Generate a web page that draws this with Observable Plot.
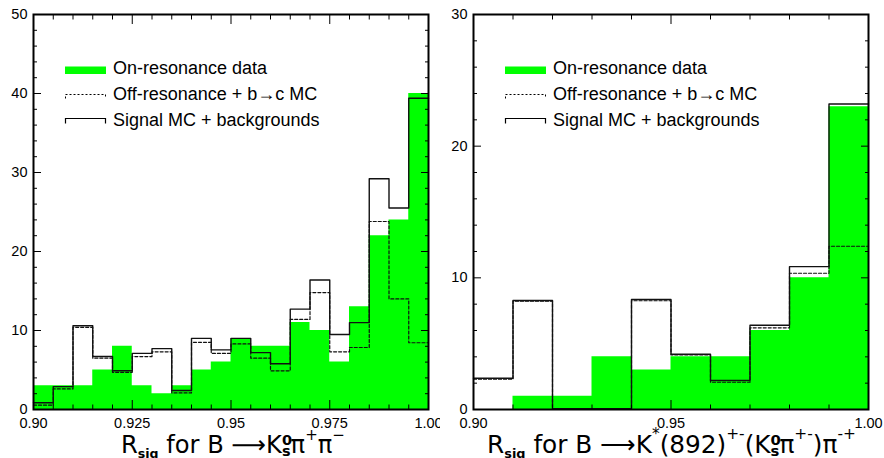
<!DOCTYPE html>
<html><head><meta charset="utf-8">
<script src="https://cdn.jsdelivr.net/npm/d3@7"></script>
<script src="https://cdn.jsdelivr.net/npm/@observablehq/plot@0.6"></script>
<style>
body{margin:0;background:#fff;}
#chart{position:relative;width:884px;height:458px;display:flex;overflow:hidden;}
#chart svg{display:block;}
</style></head><body><div id="chart"></div>
<script>
// ---------- left panel: B -> K0s pi+ pi- ----------
const leftEdges = [0.900,0.905,0.910,0.915,0.920,0.925,0.930,0.935,0.940,0.945,0.950,0.955,0.960,0.965,0.970,0.975,0.980,0.985,0.990,0.995,1.000];
const leftOnRes  = [3,3,3,5,8,3,2,3,5,6,9,8,8,11,10,6,13,22,24,40];
const leftOffRes = [0.55,2.6,10.4,6.5,4.7,6.7,7.3,2.1,8.5,7.1,8.3,6.5,4.9,11.4,14.8,7.3,7.85,23.8,14.0,8.45];
const leftSignal = [0.85,2.9,10.6,6.7,4.9,7.1,7.7,2.4,9.0,7.55,9.0,7.2,5.8,12.7,16.4,9.5,11.0,29.2,25.5,39.4];
const leftXMajor = [0.900,0.925,0.950,0.975,1.000];
const leftXLabels = ["0.90","0.925","0.95","0.975","1.00"];
const leftXMinor = [0.905,0.910,0.915,0.920,0.930,0.935,0.940,0.945,0.955,0.960,0.965,0.970,0.980,0.985,0.990,0.995];
const leftYMajor = [0,10,20,30,40,50];
const leftYLabels = ["0","10","20","30","40","50"];
const leftYMinor = [2,4,6,8,12,14,16,18,22,24,26,28,32,34,36,38,42,44,46,48];
const leftYMax = 50;

// ---------- right panel: B -> K*(892)+- (K0s pi+-) pi-+ ----------
const rightEdges = [0.90,0.91,0.92,0.93,0.94,0.95,0.96,0.97,0.98,0.99,1.00];
const rightOnRes  = [0,1,1,4,3,4,4,6,10,23];
const rightOffRes = [2.3,8.23,0.03,0.03,8.26,4.14,2.07,6.2,10.35,12.4];
const rightSignal = [2.37,8.28,0.06,0.06,8.36,4.2,2.2,6.4,10.85,23.2];
const rightXMajor = [0.90,0.95,1.00];
const rightXLabels = ["0.90","0.95","1.00"];
const rightXMinor = [0.91,0.92,0.93,0.94,0.96,0.97,0.98,0.99];
const rightYMajor = [0,10,20,30];
const rightYLabels = ["0","10","20","30"];
const rightYMinor = [2,4,6,8,12,14,16,18,22,24,26,28];
const rightYMax = 30;

const legendLabels = ["On-resonance data","Off-resonance + b\u2192c MC","Signal MC + backgrounds"];

const leftTitle = [
  {t:"R",k:"n"},{t:"sig",k:"sub"},{t:" for B ",k:"n"},{t:"\u27F6",k:"n"},{t:"K",k:"n"},
  {t:"0",t2:"s",k:"stack"},{t:"\u03C0",k:"n"},{t:"+",k:"sup"},{t:"\u03C0",k:"n"},{t:"\u2212",k:"sup"}
];
const rightTitle = [
  {t:"R",k:"n"},{t:"sig",k:"sub"},{t:" for B ",k:"n"},{t:"\u27F6",k:"n"},{t:"K",k:"n"},{t:"*",k:"sup"},
  {t:"(892)",k:"n"},{t:"+-",k:"sup"},{t:"(K",k:"n"},{t:"0",t2:"s",k:"stack"},{t:"\u03C0",k:"n"},
  {t:"+-",k:"sup"},{t:")",k:"n"},{t:"\u03C0",k:"n"},{t:"-+",k:"sup"}
];

const GREEN = "#00ff00";

function toSteps(edges, values) {
  return edges.map((x, i) => ({x, y: values[Math.min(i, values.length - 1)]}));
}

function addTitle(svg, x0, x1, parts) {
  const text = d3.select(svg).append("text")
    .attr("x", x0).attr("y", 453).attr("text-anchor", "start")
    .attr("font-family", "'DejaVu Sans', sans-serif").attr("fill", "#000");
  function build(fs) {
    text.selectAll("*").remove();
    text.attr("font-size", fs);
    let shift = 0;
    for (const p of parts) {
      if (p.k === "n") {
        text.append("tspan").attr("dy", -shift).text(p.t); shift = 0;
      } else if (p.k === "sub") {
        const off = 0.2 * fs;
        text.append("tspan").attr("dy", off - shift).attr("font-size", 0.52 * fs).attr("font-weight", "bold").text(p.t);
        shift = off;
      } else if (p.k === "sup") {
        const off = -0.55 * fs;
        text.append("tspan").attr("dy", off - shift).attr("font-size", 0.62 * fs).text(p.t);
        shift = off;
      } else if (p.k === "stack") {
        const off1 = -0.34 * fs, off2 = 0.12 * fs;
        const a = text.append("tspan").attr("dy", off1 - shift).attr("font-size", 0.6 * fs).attr("font-weight", "bold").text(p.t);
        const w = a.node().getComputedTextLength();
        text.append("tspan").attr("dx", -w).attr("dy", off2 - off1).attr("font-size", 0.6 * fs).attr("font-weight", "bold").text(p.t2);
        shift = off2;
      }
    }
  }
  build(19);
  let b = text.node().getBBox();
  build(19 * (x1 - x0) / b.width);
  b = text.node().getBBox();
  text.attr("x", x0 + (x0 - b.x));
}

function addLegend(svg) {
  const g = d3.select(svg).append("g").attr("fill", "none").attr("stroke", "#000");
  g.append("rect").attr("x", 65).attr("y", 66.5).attr("width", 41).attr("height", 7.5).attr("fill", GREEN).attr("stroke", "none");
  g.append("path").attr("d", "M65.5,98.5V94.5H105.5V98.5").attr("stroke-width", 1).attr("stroke-dasharray", "2,2");
  g.append("path").attr("d", "M65.5,123.5V118.5H105.5V123.5").attr("stroke-width", 1.2);
  const t = d3.select(svg).append("g")
    .attr("font-family", "'Liberation Sans', Arial, sans-serif").attr("font-size", 18)
    .attr("fill", "#000").attr("text-anchor", "start");
  legendLabels.forEach((s, i) => t.append("text").attr("x", 113).attr("y", 74 + 26 * i).text(s));
}

function panel(o) {
  const on = toSteps(o.edges, o.onRes);
  const off = toSteps(o.edges, o.offRes);
  const sig = toSteps(o.edges, o.signal);
  const blank = () => "";
  const tk = {label: null, tickFormat: blank, stroke: "#000"};
  return Plot.plot({
    width: o.width, height: 458,
    marginLeft: o.marginLeft, marginRight: o.marginRight, marginTop: 14, marginBottom: 49,
    style: {fontFamily: "'Liberation Sans', Arial, sans-serif", fontSize: "14.5px", background: "#fff", color: "#000", overflow: "visible"},
    x: {domain: [o.edges[0], o.edges[o.edges.length - 1]]},
    y: {domain: [0, o.yMax]},
    marks: [
      Plot.areaY(on, {x: "x", y: "y", curve: "step-after", fill: GREEN}),
      Plot.line(off, {x: "x", y: "y", curve: "step-after", stroke: "#111", strokeWidth: 1.2, strokeDasharray: "3,2"}),
      Plot.line(sig, {x: "x", y: "y", curve: "step-after", stroke: "#111", strokeWidth: 1.4}),
      Plot.axisX({...tk, anchor: "bottom", ticks: o.xMinor, tickSize: -4.5}),
      Plot.axisX({...tk, anchor: "bottom", ticks: o.xMajor, tickSize: -9}),
      Plot.axisX({...tk, anchor: "top", ticks: o.xMinor, tickSize: -4.5}),
      Plot.axisX({...tk, anchor: "top", ticks: o.xMajor, tickSize: -9}),
      Plot.axisY({...tk, anchor: "left", ticks: o.yMinor, tickSize: -4}),
      Plot.axisY({...tk, anchor: "left", ticks: o.yMajor, tickSize: -8}),
      Plot.axisY({...tk, anchor: "right", ticks: o.yMinor, tickSize: -4}),
      Plot.axisY({...tk, anchor: "right", ticks: o.yMajor, tickSize: -8}),
      Plot.axisX({anchor: "bottom", label: null, ticks: o.xMajor, tickSize: 0, tickPadding: 8,
        tickFormat: d => o.xLabels[o.xMajor.indexOf(d)]}),
      Plot.axisY({anchor: "left", label: null, ticks: o.yMajor, tickSize: 0, tickPadding: 6,
        tickFormat: d => o.yLabels[o.yMajor.indexOf(d)]}),
      Plot.frame({stroke: "#000", strokeWidth: 2})
    ]
  });
}

const chart = document.getElementById("chart");
const left = panel({width: 440, marginLeft: 33, marginRight: 12, edges: leftEdges, onRes: leftOnRes, offRes: leftOffRes,
  signal: leftSignal, yMax: leftYMax, xMajor: leftXMajor, xLabels: leftXLabels, xMinor: leftXMinor,
  yMajor: leftYMajor, yLabels: leftYLabels, yMinor: leftYMinor});
const right = panel({width: 444, marginLeft: 33, marginRight: 16, edges: rightEdges, onRes: rightOnRes, offRes: rightOffRes,
  signal: rightSignal, yMax: rightYMax, xMajor: rightXMajor, xLabels: rightXLabels, xMinor: rightXMinor,
  yMajor: rightYMajor, yLabels: rightYLabels, yMinor: rightYMinor});
chart.appendChild(left);
chart.appendChild(right);
addLegend(left);
addLegend(right);
addTitle(left, 121, 345, leftTitle);
addTitle(right, 487 - 440, 856 - 440, rightTitle);
</script></body></html>
